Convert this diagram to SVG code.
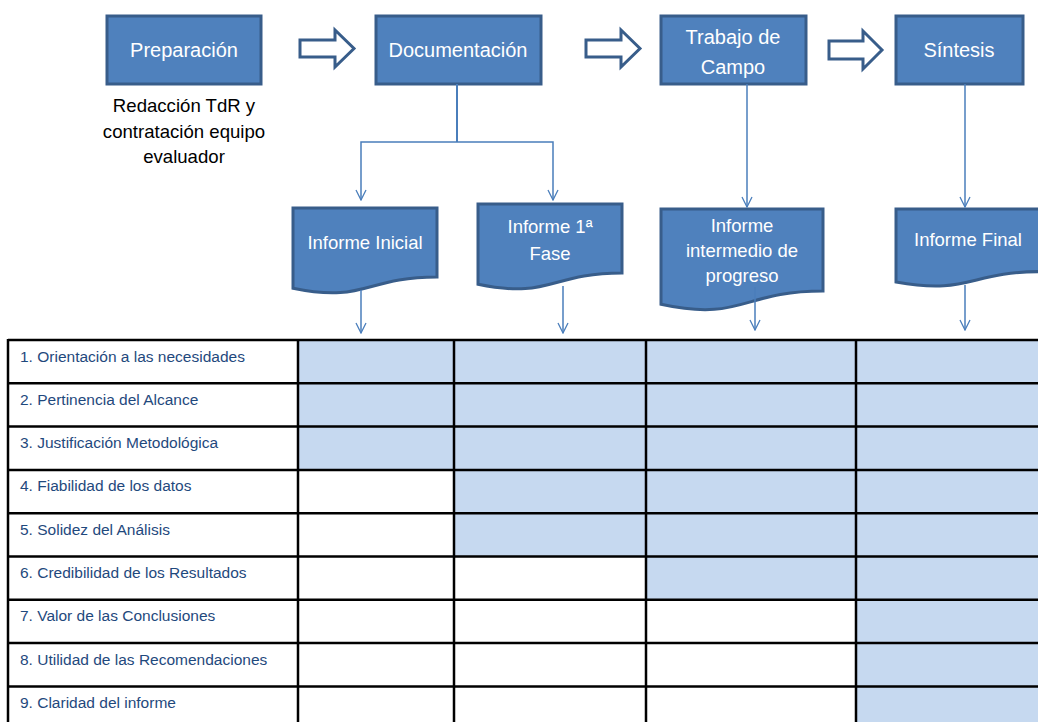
<svg xmlns="http://www.w3.org/2000/svg" width="1038" height="722" viewBox="0 0 1038 722">
<style>
.box{fill:#4F81BD;stroke:#385D8A;stroke-width:3}
.bt{fill:#FFFFFF;font-family:"Liberation Sans",Arial,sans-serif;font-size:20px;text-anchor:middle}
.dt{fill:#FFFFFF;font-family:"Liberation Sans",Arial,sans-serif;font-size:18.5px;text-anchor:middle}
.note{fill:#000000;font-family:"Liberation Sans",Arial,sans-serif;font-size:18.6px;text-anchor:middle}
.barrow{fill:#FFFFFF;stroke:#385D8A;stroke-width:3;stroke-linejoin:miter}
.con{fill:none;stroke:#4A7EBB;stroke-width:1.5}
.stem{fill:none;stroke:#4A7EBB;stroke-width:2}
.cell{fill:#C6D9F0}
.grid{stroke:#000000;stroke-width:2.5;fill:none}
.rt{fill:#1F497D;font-family:"Liberation Sans",Arial,sans-serif;font-size:15.5px}
</style>
<defs>
<marker id="v" viewBox="0 0 12 12" refX="11" refY="6" markerWidth="12" markerHeight="12" markerUnits="userSpaceOnUse" orient="auto">
<path d="M1,1 L11,6 L1,11" fill="none" stroke="#4A7EBB" stroke-width="1.3"/>
</marker>
</defs>
<rect width="1038" height="722" fill="#FFFFFF"/>

<g id="table">
<g id="shading">
<rect class="cell" x="298" y="340" width="558" height="130"/>
<rect class="cell" x="454" y="470" width="402" height="87"/>
<rect class="cell" x="646" y="556" width="210" height="44"/>
<rect class="cell" x="856" y="340" width="190" height="390"/>
</g>
<g id="grid" class="grid">
<line x1="8" y1="340" x2="1040" y2="340"/>
<line x1="8" y1="383.3" x2="1040" y2="383.3"/>
<line x1="8" y1="426.6" x2="1040" y2="426.6"/>
<line x1="8" y1="469.9" x2="1040" y2="469.9"/>
<line x1="8" y1="513.2" x2="1040" y2="513.2"/>
<line x1="8" y1="556.5" x2="1040" y2="556.5"/>
<line x1="8" y1="599.8" x2="1040" y2="599.8"/>
<line x1="8" y1="643.1" x2="1040" y2="643.1"/>
<line x1="8" y1="686.4" x2="1040" y2="686.4"/>
<line x1="8" y1="339" x2="8" y2="730"/>
<line x1="298" y1="339" x2="298" y2="730"/>
<line x1="454" y1="339" x2="454" y2="730"/>
<line x1="646" y1="339" x2="646" y2="730"/>
<line x1="856" y1="339" x2="856" y2="730"/>
</g>
<g id="criteria">
<text class="rt" x="20" y="361.5">1. Orientación a las necesidades</text>
<text class="rt" x="20" y="404.8">2. Pertinencia del Alcance</text>
<text class="rt" x="20" y="448.1">3. Justificación Metodológica</text>
<text class="rt" x="20" y="491.4">4. Fiabilidad de los datos</text>
<text class="rt" x="20" y="534.7">5. Solidez del Análisis</text>
<text class="rt" x="20" y="578">6. Credibilidad de los Resultados</text>
<text class="rt" x="20" y="621.3">7. Valor de las Conclusiones</text>
<text class="rt" x="20" y="664.6">8. Utilidad de las Recomendaciones</text>
<text class="rt" x="20" y="707.9">9. Claridad del informe</text>
</g>
</g>

<g id="phase-arrows">
<path class="barrow" d="M300,40 H335 V30 L354,48.5 L335,67 V57 H300 Z"/>
<path class="barrow" d="M586,40 H621 V30 L640,48.5 L621,67 V57 H586 Z"/>
<path class="barrow" d="M829,41 H863 V31 L882,50 L863,69 V59 H829 Z"/>
</g>

<g id="preparacion">
<rect class="box" x="107" y="16" width="154" height="68"/>
<text class="bt" x="184" y="57">Preparación</text>
</g>
<g id="preparacion-note">
<text class="note" x="184" y="112">Redacción TdR y</text>
<text class="note" x="184" y="138">contratación equipo</text>
<text class="note" x="184" y="163">evaluador</text>
</g>
<g id="documentacion">
<rect class="box" x="376" y="16" width="165" height="68"/>
<text class="bt" x="458" y="57">Documentación</text>
</g>
<g id="trabajo">
<rect class="box" x="661" y="16" width="145" height="68"/>
<text class="bt" x="733" y="44">Trabajo de</text>
<text class="bt" x="733" y="74">Campo</text>
</g>
<g id="sintesis">
<rect class="box" x="896" y="16" width="127" height="68"/>
<text class="bt" x="959" y="57">Síntesis</text>
</g>

<g id="informe-inicial">
<path class="box" d="M293,208 H437 V277 C365,277 365,303.2 293,288.3 Z"/>
<text class="dt" x="365" y="249">Informe Inicial</text>
</g>
<g id="informe-1fase">
<path class="box" d="M478,204 H622 V273 C550,273 550,299.2 478,284.3 Z"/>
<text class="dt" x="550" y="233">Informe 1ª</text>
<text class="dt" x="550" y="260">Fase</text>
</g>
<g id="informe-intermedio">
<path class="box" d="M661,209 H823 V291 C742,291 742,321.9 661,304.3 Z"/>
<text class="dt" x="742" y="232">Informe</text>
<text class="dt" x="742" y="257">intermedio de</text>
<text class="dt" x="742" y="282">progreso</text>
</g>
<g id="informe-final">
<path class="box" d="M896,209 H1042 V271.6 C969,271.6 969,295.3 896,281.9 Z"/>
<text class="dt" x="968" y="246">Informe Final</text>
</g>

<g id="connectors">
<path class="stem" d="M457,84 V142"/>
<path class="con" d="M457,142 H361 V200" marker-end="url(#v)"/>
<path class="con" d="M457,142 H553 V200" marker-end="url(#v)"/>
<path class="con" d="M747,84 V207" marker-end="url(#v)"/>
<path class="con" d="M965,84 V207" marker-end="url(#v)"/>
<path class="con" d="M361,290 V333" marker-end="url(#v)"/>
<path class="con" d="M563,286 V333" marker-end="url(#v)"/>
<path class="con" d="M755,287 V330" marker-end="url(#v)"/>
<path class="con" d="M965,285 V330" marker-end="url(#v)"/>
</g>
</svg>
